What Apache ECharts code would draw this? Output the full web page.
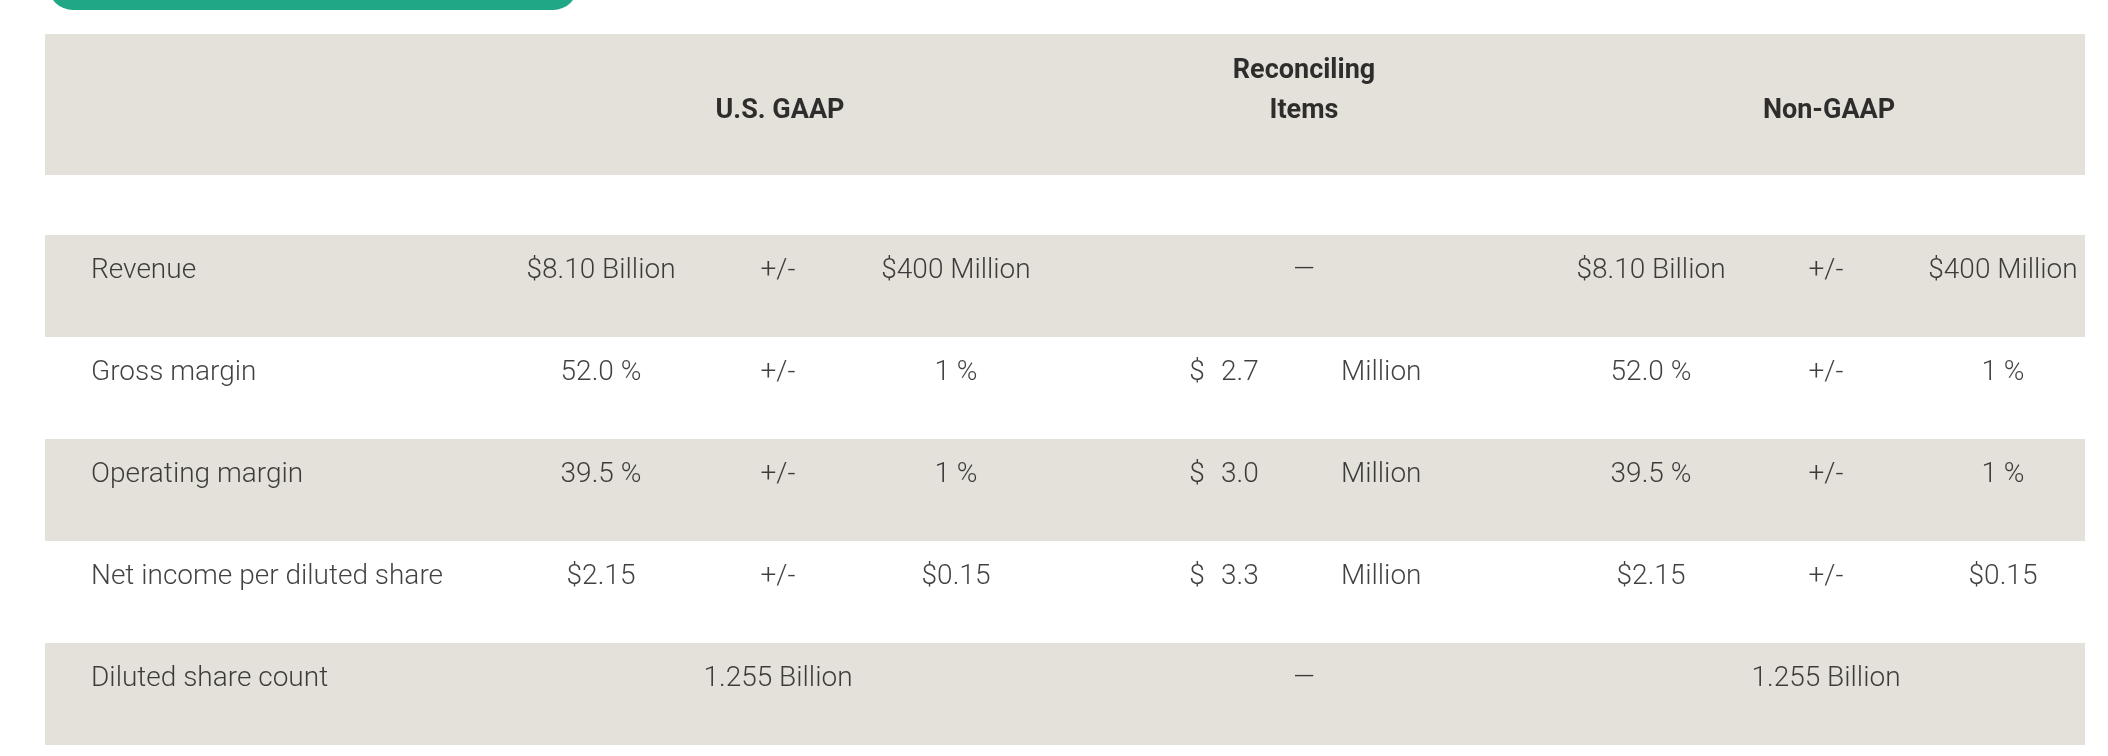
<!DOCTYPE html>
<html>
<head>
<meta charset="utf-8">
<script src="https://cdn.jsdelivr.net/npm/echarts@6/dist/echarts.min.js"></script>
<style>
  html, body { margin: 0; padding: 0; background: #fff; }
  #chart { width: 2108px; height: 756px; }
</style>
</head>
<body>
<div id="chart"></div>
<script>
// table content
var rowLabels = ['Revenue', 'Gross margin', 'Operating margin', 'Net income per diluted share', 'Diluted share count'];
var headerLabels = ['U.S. GAAP', 'Reconciling\nItems', 'Non-GAAP'];
var gaapValues = ['$8.10 Billion', '52.0 %', '39.5 %', '$2.15', '1.255 Billion'];
var gaapRanges = ['$400 Million', '1 %', '1 %', '$0.15', null];
var reconcilingAmounts = [null, 2.7, 3.0, 3.3, null];
var reconcilingUnit = 'Million';
var nonGaapValues = ['$8.10 Billion', '52.0 %', '39.5 %', '$2.15', '1.255 Billion'];
var nonGaapRanges = ['$400 Million', '1 %', '1 %', '$0.15', null];

// column layout (page x)
var col = {
    label: 91,
    gaapValue: 601, gaapPm: 778, gaapRange: 956,
    reconDollar: 1197, reconAmount: 1221, reconUnit: 1341, reconDash: 1304,
    ngValue: 1651, ngPm: 1826, ngRange: 2003
};
var headerX = [780, 1304, 1829];

var band = '#E4E1DB';
var ink = '#111111';
var bodyFont = {fontFamily: 'Roboto', fontWeight: 300, fontSize: 28, color: ink};

var centered = [];
var lefts = [];
rowLabels.forEach(function (row, i) {
    lefts.push({value: [col.label, row], name: row});
    if (gaapRanges[i] != null) {
        centered.push({value: [col.gaapValue, row], name: gaapValues[i]});
        centered.push({value: [col.gaapPm, row], name: '+/-'});
        centered.push({value: [col.gaapRange, row], name: gaapRanges[i]});
    } else {
        centered.push({value: [col.gaapPm, row], name: gaapValues[i]});
    }
    if (reconcilingAmounts[i] == null) {
        centered.push({value: [col.reconDash, row], name: '\u2014'});
    } else {
        centered.push({value: [col.reconDollar, row], name: '$'});
        lefts.push({value: [col.reconAmount, row], name: reconcilingAmounts[i].toFixed(1)});
        lefts.push({value: [col.reconUnit, row], name: reconcilingUnit});
    }
    if (nonGaapRanges[i] != null) {
        centered.push({value: [col.ngValue, row], name: nonGaapValues[i]});
        centered.push({value: [col.ngPm, row], name: '+/-'});
        centered.push({value: [col.ngRange, row], name: nonGaapRanges[i]});
    } else {
        centered.push({value: [col.ngPm, row], name: nonGaapValues[i]});
    }
});

var hidden = {show: false};
var xAxisBase = {type: 'value', min: 45, max: 2085, axisLine: hidden, axisTick: hidden, axisLabel: hidden, splitLine: hidden};

var option = {
    animation: false,
    backgroundColor: '#fff',
    graphic: [{
        type: 'rect',
        shape: {x: 48, y: -40, width: 530, height: 50, r: 25},
        style: {fill: '#20A886'}
    }],
    grid: [
        {left: 45, right: 23, top: 34, height: 141, show: true, backgroundColor: band, borderWidth: 0},
        {left: 45, right: 23, top: 235, height: 510}
    ],
    xAxis: [
        Object.assign({gridIndex: 0}, xAxisBase),
        Object.assign({gridIndex: 1}, xAxisBase)
    ],
    yAxis: [
        {gridIndex: 0, type: 'category', data: ['header'], axisLine: hidden, axisTick: hidden, axisLabel: hidden},
        {
            gridIndex: 1, type: 'category', data: rowLabels, inverse: true,
            axisLine: hidden, axisTick: hidden, axisLabel: hidden, splitLine: hidden,
            splitArea: {show: true, areaStyle: {color: [band, '#ffffff']}}
        }
    ],
    series: [
        {
            type: 'scatter', xAxisIndex: 0, yAxisIndex: 0, symbolSize: 0, silent: true,
            data: headerLabels.map(function (h, i) { return {value: [headerX[i], 'header'], name: h}; }),
            label: {
                show: true, position: 'inside', formatter: '{b}',
                fontFamily: 'Roboto', fontWeight: 'bold', fontSize: 27, color: '#000',
                align: 'center', verticalAlign: 'bottom', lineHeight: 40, offset: [0, 27]
            }
        },
        {
            type: 'scatter', xAxisIndex: 1, yAxisIndex: 1, symbolSize: 0, silent: true,
            data: centered,
            label: Object.assign({show: true, position: 'inside', formatter: '{b}', align: 'center', verticalAlign: 'middle', offset: [0, -15]}, bodyFont)
        },
        {
            type: 'scatter', xAxisIndex: 1, yAxisIndex: 1, symbolSize: 0, silent: true,
            data: lefts,
            label: Object.assign({show: true, position: 'inside', formatter: '{b}', align: 'left', verticalAlign: 'middle', offset: [0, -15]}, bodyFont)
        }
    ]
};

var chart = echarts.init(document.getElementById('chart'));
chart.setOption(option);
</script>
</body>
</html>
